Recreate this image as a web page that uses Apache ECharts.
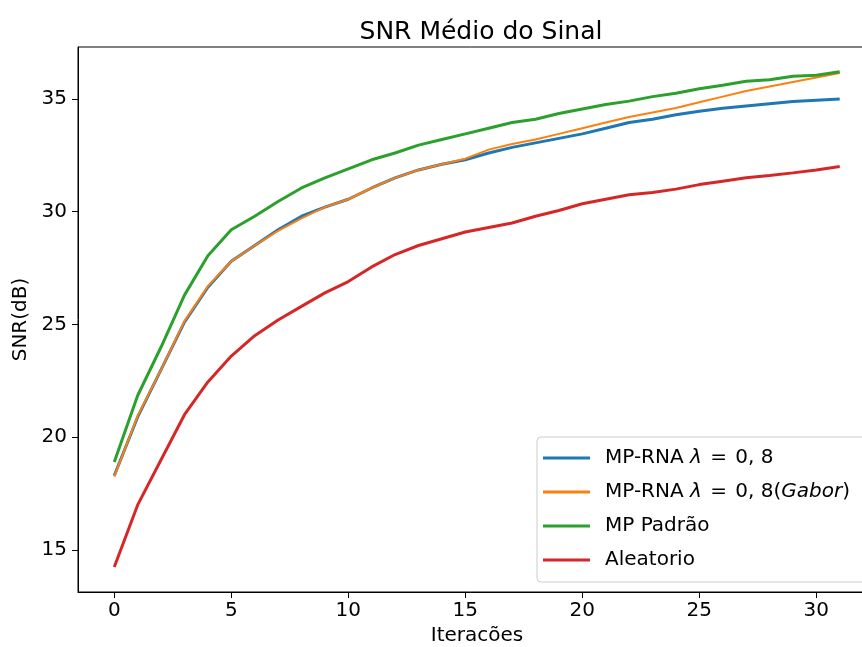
<!DOCTYPE html>
<html>
<head>
<meta charset="utf-8">
<script src="https://cdn.jsdelivr.net/npm/echarts@6/dist/echarts.min.js"></script>
<style>html,body{margin:0;padding:0;background:#fff}#c{width:862px;height:647px}</style>
</head>
<body>
<div id="c"></div>
<script>
const iterations = [0,1,2,3,4,5,6,7,8,9,10,11,12,13,14,15,16,17,18,19,20,21,22,23,24,25,26,27,28,29,30,31];
const mpRna = [18.3,20.9,23.0,25.1,26.65,27.8,28.5,29.2,29.8,30.2,30.55,31.05,31.5,31.85,32.1,32.3,32.6,32.85,33.05,33.25,33.45,33.7,33.95,34.1,34.3,34.45,34.58,34.68,34.78,34.88,34.94,35.0];
const mpRnaGabor = [18.25,20.95,23.0,25.15,26.7,27.8,28.5,29.15,29.7,30.2,30.55,31.05,31.5,31.85,32.1,32.35,32.75,33.0,33.2,33.45,33.7,33.95,34.2,34.4,34.6,34.85,35.1,35.35,35.55,35.75,35.95,36.15];
const mpPadrao = [18.9,21.85,24.0,26.3,28.05,29.2,29.8,30.45,31.05,31.5,31.9,32.3,32.6,32.95,33.2,33.45,33.7,33.95,34.1,34.35,34.55,34.75,34.9,35.1,35.25,35.45,35.6,35.78,35.85,36.0,36.05,36.2];
const aleatorio = [14.25,17.0,19.0,21.0,22.45,23.6,24.5,25.2,25.8,26.4,26.9,27.55,28.1,28.5,28.8,29.1,29.3,29.5,29.8,30.05,30.35,30.55,30.75,30.85,31.0,31.2,31.35,31.5,31.6,31.72,31.85,32.0];
const xTicks = [0,5,10,15,20,25,30];
const yTicks = [15,20,25,30,35];
const seriesNames = ['MP-RNA λ = 0, 8','MP-RNA λ = 0, 8(Gabor)','MP Padrão','Aleatorio'];
const seriesColors = ['#1f77b4','#ff7f0e','#2ca02c','#d62728'];
const seriesValues = [mpRna, mpRnaGabor, mpPadrao, aleatorio];
const seriesWidths = [3, 2, 3, 3];

const FONT = 'DejaVu Sans';
const chart = echarts.init(document.getElementById('c'), null, {renderer: 'canvas'});
const option = {
  backgroundColor: '#fff',
  animation: false,
  title: {
    text: 'SNR Médio do Sinal',
    left: 476, top: 15, textAlign: 'center',
    textStyle: {fontFamily: FONT, fontSize: 25, fontWeight: 'normal', color: '#000'}
  },
  grid: {left: 78, top: 47, width: 798, bottom: 55, outerBoundsMode: 'none', containLabel: false,
         show: true, borderColor: '#000', borderWidth: 1, backgroundColor: 'transparent'},
  xAxis: {
    type: 'value', min: -1.55, max: 32.55,
    name: 'Iteracões', nameLocation: 'middle', nameGap: 33,
    nameTextStyle: {fontFamily: FONT, fontSize: 20, color: '#000'},
    axisLine: {show: true, onZero: false, lineStyle: {color: '#000', width: 1}},
    axisTick: {show: true, length: 6, inside: false, customValues: xTicks, lineStyle: {color: '#000'}},
    axisLabel: {customValues: xTicks, fontFamily: FONT, fontSize: 20, color: '#000', margin: 9},
    splitLine: {show: false}
  },
  yAxis: {
    type: 'value', min: 13.14, max: 37.3,
    name: 'SNR(dB)', nameLocation: 'middle', nameGap: 43, nameRotate: 90,
    nameTextStyle: {fontFamily: FONT, fontSize: 20, color: '#000'},
    axisLine: {show: true, onZero: false, lineStyle: {color: '#000', width: 1}},
    axisTick: {show: true, length: 6, inside: false, customValues: yTicks, lineStyle: {color: '#000'}},
    axisLabel: {customValues: yTicks, fontFamily: FONT, fontSize: 20, color: '#000', margin: 11},
    splitLine: {show: false}
  },
  legend: {
    orient: 'vertical', left: 537, top: 437,
    padding: [9, 20, 10, 6],
    itemGap: 10, itemWidth: 47, itemHeight: 3, icon: 'rect',
    backgroundColor: 'rgba(255,255,255,0.85)', borderColor: '#cccccc', borderWidth: 1, borderRadius: 4,
    data: seriesNames,
    formatter: function (name) {
      return name.replace('λ', '{i|λ}').replace(' = ', '{s| = }').replace('Gabor', '{i|Gabor}');
    },
    textStyle: {
      fontFamily: FONT, fontSize: 20, color: '#000', lineHeight: 24, padding: [0, 0, 0, 10],
      rich: {
        i: {fontFamily: FONT, fontSize: 20, fontStyle: 'italic', color: '#000'},
        s: {fontFamily: FONT, fontSize: 20, color: '#000', padding: [0, 2, 0, 2]}
      }
    }
  },
  series: seriesNames.map((n, k) => ({
    name: n, type: 'line', showSymbol: false, symbol: 'none',
    data: iterations.map((x, j) => [x, seriesValues[k][j]]),
    lineStyle: {color: seriesColors[k], width: seriesWidths[k]},
    itemStyle: {color: seriesColors[k]},
    z: 2 + k
  }))
};
chart.setOption(option);
</script>
</body>
</html>
